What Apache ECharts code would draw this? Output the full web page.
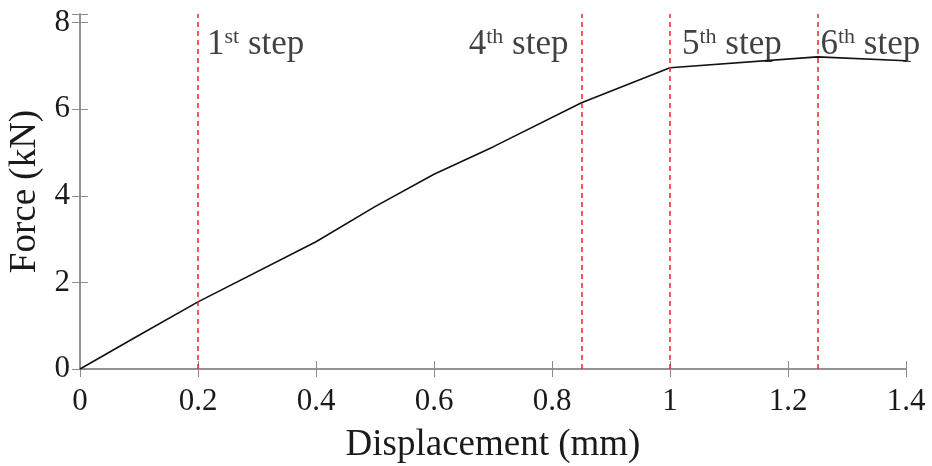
<!DOCTYPE html>
<html>
<head>
<meta charset="utf-8">
<script src="https://cdn.jsdelivr.net/npm/echarts@6/dist/echarts.min.js"></script>
<style>html,body{margin:0;padding:0;background:#fff;}#c{width:932px;height:466px;}</style>
</head>
<body>
<div id="c"></div>
<script>
// Data
var displacement = [0, 0.1, 0.2, 0.4, 0.5, 0.6, 0.7, 0.85, 1.0, 1.25, 1.4];
var force =        [0, 0.78, 1.55, 2.94, 3.75, 4.5, 5.13, 6.15, 6.96, 7.21, 7.12];
var stepX = [0.2, 0.85, 1.0, 1.25];
var stepNum = ['1', '4', '5', '6'];
var stepSup = ['st', 'th', 'th', 'th'];
var stepLabelY = 7.48;
var xTicks = [0, 0.2, 0.4, 0.6, 0.8, 1, 1.2, 1.4];
var yTicks = [0, 2, 4, 6, 8];

var FONT = '"Liberation Serif", "Times New Roman", serif';
var axisGray = '#8c8c8c';
var labelPos = ['right', 'left', 'right', 'right'];
var labelDist = [9, 13, 12, 3];

var chart = echarts.init(document.getElementById('c'));
var lineData = displacement.map(function (x, i) { return [x, force[i]]; });
var stepPoints = stepX.map(function (x, i) {
  return {
    value: [x, stepLabelY],
    label: { position: labelPos[i], distance: labelDist[i],
      formatter: '{n|' + stepNum[i] + '}{s|' + stepSup[i] + '}{t| step}' }
  };
});
var rich = {
  n: { fontFamily: FONT, fontSize: 35, color: '#111', lineHeight: 38 },
  s: { fontFamily: FONT, fontSize: 22, color: '#111', lineHeight: 24, verticalAlign: 'top' },
  t: { fontFamily: FONT, fontSize: 35, color: '#111', lineHeight: 38 }
};
function hideNonTick(list) {
  return function (v) {
    for (var i = 0; i < list.length; i++) if (Math.abs(list[i] - v) < 1e-9) return String(v);
    return '';
  };
}
var option = {
  backgroundColor: '#fff',
  animation: false,
  grid: { left: 80, right: 26, top: 14, bottom: 97, containLabel: false, outerBoundsMode: 'none' },
  xAxis: [{
    type: 'value', min: 0, max: 1.4, interval: 0.2, position: 'bottom',
    name: 'Displacement (mm)', nameLocation: 'middle', nameGap: 58,
    nameTextStyle: { fontFamily: FONT, fontSize: 37, color: '#1a1a1a' },
    axisLine: { show: true, lineStyle: { color: axisGray, width: 1.5 } },
    axisTick: { show: true, inside: true, length: 8, lineStyle: { color: axisGray } },
    axisLabel: { fontFamily: FONT, fontSize: 31, color: '#1a1a1a', margin: 17, formatter: hideNonTick(xTicks) },
    splitLine: { show: false }
  }, {
    type: 'value', min: 0, max: 1.4, interval: 0.2, position: 'top',
    axisLine: { show: true, lineStyle: { color: axisGray, width: 1.5 } },
    axisTick: { show: true, inside: true, length: 8, lineStyle: { color: axisGray } },
    axisLabel: { show: false }, splitLine: { show: false }
  }],
  yAxis: [{
    type: 'value', min: 0, max: 8.2, interval: 2, position: 'left',
    name: 'Force (kN)', nameLocation: 'middle', nameGap: 36,
    nameTextStyle: { fontFamily: FONT, fontSize: 37, color: '#1a1a1a' },
    axisLine: { show: true, lineStyle: { color: axisGray, width: 1.5 } },
    axisTick: { show: true, inside: true, length: 8, lineStyle: { color: axisGray } },
    axisLabel: { fontFamily: FONT, fontSize: 31, color: '#1a1a1a', margin: 10, padding: [8, 0, 0, 0], formatter: hideNonTick(yTicks) },
    splitLine: { show: false }
  }, {
    type: 'value', min: 0, max: 8.2, interval: 2, position: 'right',
    axisLine: { show: true, lineStyle: { color: axisGray, width: 1.5 } },
    axisTick: { show: true, inside: true, length: 8, lineStyle: { color: axisGray } },
    axisLabel: { show: false }, splitLine: { show: false }
  }],
  series: [{
    type: 'line', data: lineData, xAxisIndex: 0, yAxisIndex: 0,
    showSymbol: false, symbol: 'none',
    lineStyle: { color: '#111', width: 1.6 },
    markLine: {
      silent: true, symbol: 'none', label: { show: false },
      lineStyle: { color: '#e8262a', type: [5, 4], width: 1.5 },
      data: stepX.map(function (x) { return { xAxis: x }; })
    },
    z: 3
  }, {
    type: 'scatter', data: stepPoints, symbolSize: 0, silent: true,
    label: { show: true, rich: rich },
    z: 4
  }]
};
chart.setOption(option);
</script>
</body>
</html>
